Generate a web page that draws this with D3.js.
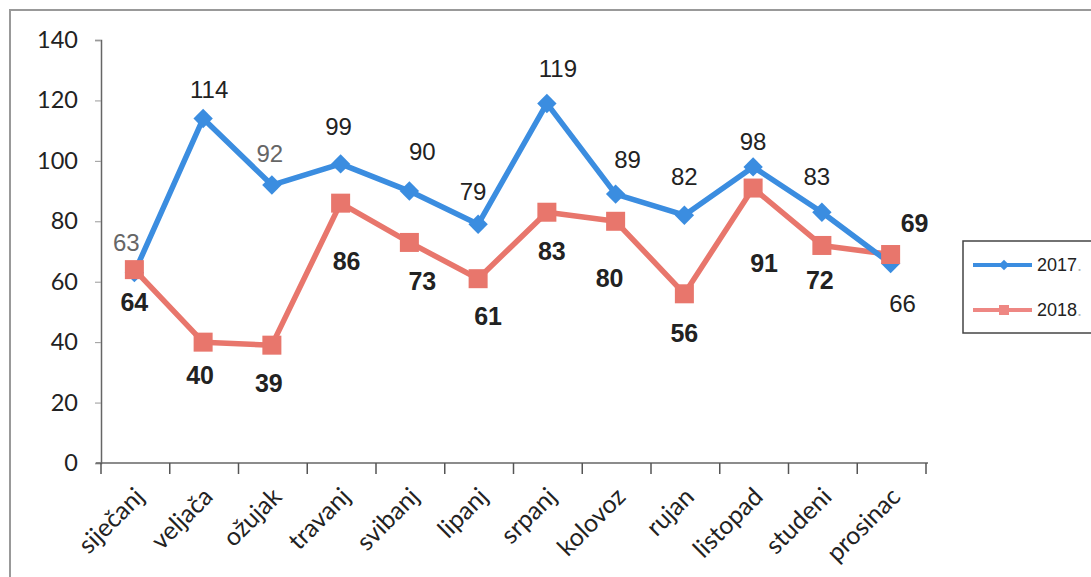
<!DOCTYPE html>
<html>
<head>
<meta charset="utf-8">
<script src="https://cdn.jsdelivr.net/npm/d3@7"></script>
<style>
	body { margin: 0; background: #fff; }
	svg { display: block; }
</style>
</head>
<body>
<div id="chart"></div>
<script>
const months = ['siječanj', 'veljača', 'ožujak', 'travanj', 'svibanj', 'lipanj', 'srpanj', 'kolovoz', 'rujan', 'listopad', 'studeni', 'prosinac']
const values2017 = [63, 114, 92, 99, 90, 79, 119, 89, 82, 98, 83, 66]
const values2018 = [64, 40, 39, 86, 73, 61, 83, 80, 56, 91, 72, 69]
const yTicks = [0, 20, 40, 60, 80, 100, 120, 140]
const seriesNames = ['2017', '2018']

// label placement (dx, dy from the point), as placed by hand in the original
const labelOff2017 = [[-8, -30], [6, -29], [-2, -31], [-2, -37], [13, -39], [-5, -33], [11, -35], [12, -34], [0, -39], [0, -25], [-5, -36], [12, 40]]
const labelOff2018 = [[0, 33], [-3, 33], [-3, 38], [6, 58], [13, 39], [10, 38], [5, 39], [-6, 57], [0, 39], [11, 75], [-2, 35], [24, -31]]

const width = 1091
const height = 577
const blue = '#3b8de0'
const red = '#e8766c'

const svg = d3.select('#chart').append('svg').attr('width', width).attr('height', height)

// outer frame
svg.append('rect')
	.attr('x', 10).attr('y', 10)
	.attr('width', 1100).attr('height', 600)
	.attr('fill', 'none').attr('stroke', '#999').attr('stroke-width', 2)

const x = d3.scaleBand().domain(months).range([101, 926])
const y = d3.scaleLinear().domain([0, 140]).range([463, 40])
const cx = (d) => x(d) + x.bandwidth() / 2 - 1

// y axis
const yAxis = svg.append('g').attr('transform', 'translate(101,0)')
	.call(d3.axisLeft(y).tickValues(yTicks).tickSize(6).tickPadding(17))
yAxis.select('.domain').attr('stroke', '#666').attr('stroke-width', 1.5)
yAxis.selectAll('.tick line').attr('stroke', '#999')
yAxis.selectAll('text').attr('font-family', 'Lato').attr('font-size', 23.5).attr('fill', '#222')

// x axis, ticks sit between the months
const xAxis = svg.append('g').attr('transform', 'translate(0,463)')
xAxis.append('line')
	.attr('x1', 96).attr('x2', 928)
	.attr('stroke', '#666').attr('stroke-width', 1.5)
xAxis.selectAll('.tk')
	.data(months.concat(['end']))
	.enter()
	.append('line')
	.attr('x1', (d, i) => i < months.length ? x(d) : x.range()[1])
	.attr('x2', (d, i) => i < months.length ? x(d) : x.range()[1])
	.attr('y1', 0).attr('y2', 11)
	.attr('stroke', '#555').attr('stroke-width', 1.5)
xAxis.selectAll('.lbl')
	.data(months)
	.enter()
	.append('text')
	.attr('transform', (d) => `translate(${cx(d) - 2},${22}) rotate(-45)`)
	.attr('text-anchor', 'end')
	.attr('dy', '0.75em')
	.attr('font-family', 'Lato')
	.attr('font-size', 25)
	.attr('fill', '#222')
	.text((d) => d)

const line = d3.line().x((d, i) => cx(months[i])).y((d) => y(d))

// 2018 first, 2017 drawn over it
svg.append('path').datum(values2018)
	.attr('d', line).attr('fill', 'none')
	.attr('stroke', red).attr('stroke-width', 5.5).attr('stroke-linejoin', 'round')
svg.append('path').datum(values2017)
	.attr('d', line).attr('fill', 'none')
	.attr('stroke', blue).attr('stroke-width', 5.5).attr('stroke-linejoin', 'round')

svg.selectAll('.dia')
	.data(values2017)
	.enter()
	.append('path')
	.attr('d', d3.symbol(d3.symbolDiamond2, 240)())
	.attr('transform', (d, i) => `translate(${cx(months[i])},${y(d)})`)
	.attr('fill', blue)

svg.selectAll('.sq')
	.data(values2018)
	.enter()
	.append('rect')
	.attr('x', (d, i) => cx(months[i]) - 9.5)
	.attr('y', (d) => y(d) - 9.5)
	.attr('width', 19).attr('height', 19)
	.attr('fill', red)

// data labels
svg.selectAll('.l17')
	.data(values2017)
	.enter()
	.append('text')
	.attr('x', (d, i) => cx(months[i]) + labelOff2017[i][0])
	.attr('y', (d, i) => y(d) + labelOff2017[i][1])
	.attr('dy', '0.35em')
	.attr('text-anchor', 'middle')
	.attr('font-family', 'Liberation Sans, Arial')
	.attr('font-size', 24)
	.attr('fill', (d, i) => (i === 0 || i === 2) ? '#666' : '#222')
	.text((d) => d)

svg.selectAll('.l18')
	.data(values2018)
	.enter()
	.append('text')
	.attr('x', (d, i) => cx(months[i]) + labelOff2018[i][0])
	.attr('y', (d, i) => y(d) + labelOff2018[i][1])
	.attr('dy', '0.35em')
	.attr('text-anchor', 'middle')
	.attr('font-family', 'Liberation Sans, Arial')
	.attr('font-weight', 'bold')
	.attr('font-size', 25)
	.attr('fill', '#222')
	.text((d) => d)

// legend
const legend = svg.append('g')
legend.append('rect')
	.attr('x', 963).attr('y', 241)
	.attr('width', 140).attr('height', 92)
	.attr('fill', '#fff').attr('stroke', '#444').attr('stroke-width', 1.5)

const legendColors = [blue, '#ee8783']
seriesNames.forEach(function (name, i) {
	const ly = 265 + i * 45
	legend.append('line')
		.attr('x1', 973).attr('x2', 1032).attr('y1', ly).attr('y2', ly)
		.attr('stroke', legendColors[i]).attr('stroke-width', 4)
	if (i === 0) {
		legend.append('path')
			.attr('d', d3.symbol(d3.symbolDiamond2, 70)())
			.attr('transform', `translate(1004,${ly})`)
			.attr('fill', legendColors[i])
	} else {
		legend.append('rect')
			.attr('x', 999).attr('y', ly - 5).attr('width', 10).attr('height', 10)
			.attr('fill', legendColors[i])
	}
	const t = legend.append('text')
		.attr('x', 1037).attr('y', ly).attr('dy', '0.35em')
		.attr('font-family', 'Liberation Sans, Arial')
		.attr('font-size', 18)
		.attr('fill', '#222')
	t.append('tspan').text(name)
	t.append('tspan').attr('fill', '#bbb').text('.')
})
</script>
</body>
</html>
